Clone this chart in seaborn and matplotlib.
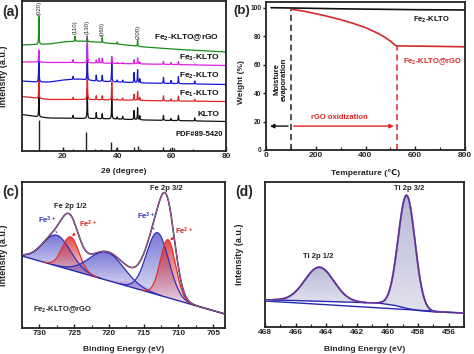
import numpy as np
import pandas as pd
import matplotlib
matplotlib.use("Agg")
from matplotlib import pyplot as plt
from matplotlib.colors import to_rgb
from matplotlib.patches import Polygon
from matplotlib.ticker import MultipleLocator
import seaborn as sns

# ---------------- (a) XRD ----------------
xrd_peaks = [11.2, 20.0, 23.8, 24.5, 29.0, 32.3, 33.4, 34.5, 38.0, 40.0, 42.0, 46.2, 47.5, 48.3, 57.0, 59.8, 62.5, 68.5]
klto_h = [20, 0, 3, 0, 30, 6, 0, 5, 22, 2, 3, 9, 12, 4, 5, 2, 5, 3]
fe1_h = [20, 0, 2, 0, 36, 4, 0, 4, 18, 1, 2, 6, 9, 3, 5, 2, 5, 2]
fe2_h = [30, 0, 3, 0, 35, 6, 0, 6, 22, 2, 2, 10, 13, 4, 6, 3, 7, 3]
fe3_h = [12, 0, 3, 0, 27, 3, 5, 5, 7, 1, 1, 4, 6, 2, 3, 2, 3, 1]
rgo_h = [28, 0, 0, 5, 4, 0, 0, 5, 0, 2, 0, 0, 6, 0, 0, 0, 0, 0]

base_x = [5, 10, 15, 20, 26, 32, 40, 50, 60, 80]
klto_base = [36.5, 34.5, 33, 32.8, 32.6, 32.4, 32, 31, 30.5, 29.5]
fe1_base = [54.5, 53, 51.5, 51.5, 51.5, 51.3, 51, 50.5, 50, 49.5]
fe2_base = [70, 69, 69, 71, 72, 70, 69, 68, 67.5, 66.5]
fe3_base = [89, 89, 88.5, 88.5, 88.3, 88, 87.5, 87, 86.5, 85.5]
rgo_base = [106, 106.5, 107, 109, 110, 109, 107, 104, 102, 99]

pdf_pos = [11.2, 19.9, 23.8, 28.6, 31.7, 33.9, 37.6, 39.7, 46.2, 47.5, 48.3, 57.0, 59.4, 61.0, 67.8]
pdf_h = [31, 3.3, 2, 19, 2, 2.5, 9.3, 3, 4.3, 5, 2, 4, 3.5, 3.5, 2]

xrd_names = ["KLTO", "Fe$_1$-KLTO", "Fe$_2$-KLTO", "Fe$_3$-KLTO", "Fe$_2$-KLTO@rGO"]
xrd_colors = ["#111111", "#e02424", "#1515d8", "#e020e0", "#1a8c1a"]
xrd_label_y = [36, 57, 75, 93, 113]
hkl_labels = ["(020)", "(110)", "(130)", "(060)", "(200)"]
hkl_pos = [11.2, 24.5, 29.0, 34.4, 47.6]
hkl_y = [143, 124, 124, 122, 119]

# ---------------- (b) TGA ----------------
tga_t_black = [20, 100, 200, 300, 400, 500, 600, 700, 800]
tga_w_black = [100, 99.8, 99.5, 99.2, 99.0, 98.8, 98.6, 98.5, 98.4]
tga_t_red = [100, 150, 200, 250, 300, 350, 400, 450, 480, 500, 515, 525, 540, 600, 700, 800]
tga_w_red = [99.0, 97.6, 95.8, 93.8, 91.6, 89.0, 86.0, 82.0, 79.0, 76.5, 74.2, 73.2, 73.1, 73.0, 72.8, 72.5]

# ---------------- (c) Fe 2p XPS ----------------
fe_bg_x = [732.5, 703.3]
fe_bg_y = [72, 14]
fe_centers = [727.5, 725.5, 720.3, 716.0, 713.0, 711.5]
fe_heights = [30.7, 33, 28, 6, 62, 58]
fe_sigmas = [2.0, 1.2, 2.5, 2.0, 1.6, 1.1]
fe_kinds = ["Fe3+", "Fe2+", "sat", "sat2", "Fe3+", "Fe2+"]

# ---------------- (d) Ti 2p XPS ----------------
ti_bg_x = [468, 465, 462, 460.5, 459.5, 458.7, 458, 457, 456, 455]
ti_bg_y = [27.3, 26.0, 24.6, 23.8, 21.5, 18.5, 16.5, 15.2, 14.5, 14.0]
ti_line_x = [468, 455]
ti_line_y = [26.0, 14.0]
ti_centers = [464.45, 458.75]
ti_heights = [34, 113]
ti_sigmas = [0.95, 0.55]

sns.set_theme(style="ticks")
plt.rcParams["font.family"] = ["Liberation Sans", "DejaVu Sans"]
plt.rcParams["font.weight"] = "bold"
plt.rcParams["mathtext.fontset"] = "custom"
plt.rcParams["mathtext.rm"] = "Liberation Sans:bold"
plt.rcParams["mathtext.bf"] = "Liberation Sans:bold"
plt.rcParams["mathtext.default"] = "bf"
plt.rcParams["axes.linewidth"] = 1.3
plt.rcParams["xtick.direction"] = "in"
plt.rcParams["ytick.direction"] = "in"

W, H = 474, 354
fig = plt.figure(figsize=(W / 100, H / 100), dpi=100)


def px_axes(l, t, r, b):
    return fig.add_axes([l / W, 1 - b / H, (r - l) / W, (b - t) / H])


def style(ax, fs=6):
    for s in ax.spines.values():
        s.set_color("#222222")
    ax.tick_params(axis="both", which="major", length=3, width=1, labelsize=fs, pad=1.5, color="#222222")
    ax.tick_params(axis="both", which="minor", length=2, width=0.8, color="#222222")
    for lab in ax.get_xticklabels() + ax.get_yticklabels():
        lab.set_fontweight("bold")


def gauss(x, c, h, s):
    return h * np.exp(-((x - c) ** 2) / (2 * s ** 2))


def grad_fill(ax, x, y0, y1, color, a_top, a_bot, z):
    verts = np.vstack([np.column_stack([x, y1]), np.column_stack([x[::-1], y0[::-1]])])
    poly = Polygon(verts, closed=True, facecolor="none", edgecolor="none")
    ax.add_patch(poly)
    img = np.zeros((100, 1, 4))
    img[:, :, :3] = to_rgb(color)
    img[:, :, 3] = np.linspace(a_top, a_bot, 100)[:, None]
    im = ax.imshow(img, aspect="auto", origin="upper", zorder=z,
                   extent=[x.min(), x.max(), y0.min(), y1.max()])
    im.set_clip_path(poly)


# ================= (a) =================
ax = px_axes(22, 1, 226, 151)
tt = np.round(np.arange(5, 80.001, 0.01), 2)
for name, col, base, hts, ly in zip(xrd_names, xrd_colors,
                                    [klto_base, fe1_base, fe2_base, fe3_base, rgo_base],
                                    [klto_h, fe1_h, fe2_h, fe3_h, rgo_h], xrd_label_y):
    y = np.interp(tt, base_x, base)
    for p, h in zip(xrd_peaks, hts):
        if h > 0:
            y = y + h * 0.09 ** 2 / ((tt - p) ** 2 + 0.09 ** 2)
    df = pd.DataFrame({"2theta": tt, "I": y})
    sns.lineplot(data=df, x="2theta", y="I", ax=ax, color=col, lw=0.9, estimator=None, sort=False)
    ax.text(77.6, ly, name, ha="right", va="center", fontsize=6, fontweight="bold", color="#111111")
ax.vlines(pdf_pos, 0, pdf_h, color="#222222", lw=1.0)
ax.text(79.0, 17, "PDF#89-5420", ha="right", va="center", fontsize=5.5, fontweight="bold", color="#111111")
for lab, p, yy in zip(hkl_labels, hkl_pos, hkl_y):
    ax.text(p, yy, lab, rotation=90, ha="center", va="center", fontsize=4.3, fontweight="normal", color="#222222")
ax.set_xlim(5, 80)
ax.set_ylim(0, 150)
ax.set_yticks([])
ax.xaxis.set_major_locator(MultipleLocator(20))
ax.set_xlabel("2θ (degree)", fontsize=6, fontweight="bold")
ax.set_ylabel("Intensity (a.u.)", fontsize=6.5, fontweight="bold")
ax.yaxis.set_label_coords(-0.069, 0.5)
ax.xaxis.set_label_coords(0.5, -0.135)
ax.xaxis.label.set_va("center")
style(ax)
fig.text(11 / W, 1 - 12 / H, "(a)", fontsize=10, fontweight="bold", ha="center", va="center")

# ================= (b) =================
ax = px_axes(266, 2, 465, 150)
sns.lineplot(x=tga_t_red, y=tga_w_red, ax=ax, color="#d42a2a", lw=1.2, estimator=None, sort=False)
sns.lineplot(x=tga_t_black, y=tga_w_black, ax=ax, color="#111111", lw=1.2, estimator=None, sort=False)
ax.plot([100, 100], [0, 98.6], ls=(0, (4, 2.5)), color="#222222", lw=1.1)
ax.plot([525, 525], [0, 73.2], ls=(0, (4, 2.5)), color="#e02424", lw=1.1)
ax.annotate("", xy=(5, 16.8), xytext=(100, 16.8),
            arrowprops=dict(arrowstyle="-|>", color="#111111", lw=1.0, mutation_scale=6))
ax.annotate("", xy=(525, 16.8), xytext=(100, 16.8),
            arrowprops=dict(arrowstyle="-|>", color="#e02424", lw=1.0, mutation_scale=6))
ax.text(293, 22.9, "rGO oxidization", color="#e02424", fontsize=5.5, fontweight="bold", ha="center", va="center")
ax.text(58, 50, "Moisture\nevaporation", rotation=90, color="#111111", fontsize=5.5, fontweight="bold",
        ha="center", va="center", linespacing=1.0)
ax.text(667, 91.6, "Fe$_2$-KLTO", color="#111111", fontsize=5.5, ha="center", va="center")
ax.text(670, 62.4, "Fe$_2$-KLTO@rGO", color="#e02424", fontsize=5.5, ha="center", va="center")
ax.set_xlim(0, 800)
ax.set_ylim(0, 104)
ax.xaxis.set_major_locator(MultipleLocator(200))
ax.xaxis.set_minor_locator(MultipleLocator(100))
ax.yaxis.set_major_locator(MultipleLocator(20))
ax.set_xlabel("Temperature (\u2103)", fontsize=6, fontweight="bold")
ax.set_ylabel("Weight (%)", fontsize=6, fontweight="bold")
ax.yaxis.set_label_coords(-0.105, 0.46)
ax.xaxis.set_label_coords(0.5, -0.155)
ax.xaxis.label.set_va("center")
style(ax)
ax.tick_params(axis="y", which="major", direction="out", length=2.5, labelsize=4.8, pad=0.8)
fig.text(241.5 / W, 1 - 11 / H, "(b)", fontsize=9.5, fontweight="bold", ha="center", va="center")

# ================= (c) =================
ax = px_axes(22, 182, 225, 328)
ev = np.linspace(703.3, 732.5, 1500)
bg = np.interp(ev, fe_bg_x[::-1], fe_bg_y[::-1])
total = bg.copy()
for c, h, s, k in zip(fe_centers, fe_heights, fe_sigmas, fe_kinds):
    comp = gauss(ev, c, h, s)
    total = total + comp
    m = comp > 0.2
    if k == "Fe2+":
        grad_fill(ax, ev[m], bg[m], bg[m] + comp[m], "#e03030", 0.85, 0.08, 2)
        ax.plot(ev[m], bg[m] + comp[m], color="#e03030", lw=0.9, zorder=3)
    elif k == "sat2":
        grad_fill(ax, ev[m], bg[m], bg[m] + comp[m], "#c070c0", 0.4, 0.1, 1)
    else:
        grad_fill(ax, ev[m], bg[m], bg[m] + comp[m], "#4a4ac8", 0.75, 0.1, 1)
        ax.plot(ev[m], bg[m] + comp[m], color="#3030c0", lw=0.9, zorder=3)
sns.lineplot(x=fe_bg_x, y=fe_bg_y, ax=ax, color="#2a2aa8", lw=1.0, estimator=None, sort=False)
sns.lineplot(x=ev, y=total, ax=ax, color="#111111", lw=1.1, estimator=None, sort=False, zorder=4)
sns.lineplot(x=ev, y=total, ax=ax, color="#e070e0", lw=0.5, estimator=None, sort=False, zorder=5)
ax.text(725.6, 122, "Fe 2p 1/2", fontsize=5.5, ha="center", va="center")
ax.text(711.7, 139, "Fe 2p 3/2", fontsize=5.5, ha="center", va="center")
ax.annotate("Fe$^{3+}$", xy=(727.2, 93), xytext=(728.9, 108), color="#3535b5", fontsize=5.5,
            ha="center", va="center", arrowprops=dict(arrowstyle="-", color="#3535b5", lw=0.6))
ax.annotate("Fe$^{2+}$", xy=(725.3, 92), xytext=(723.0, 104), color="#e02424", fontsize=5.5,
            ha="center", va="center", arrowprops=dict(arrowstyle="-|>", color="#e02424", lw=0.6, mutation_scale=4))
ax.annotate("Fe$^{3+}$", xy=(713.3, 96), xytext=(714.6, 112), color="#3535b5", fontsize=5.5,
            ha="center", va="center", arrowprops=dict(arrowstyle="-", color="#3535b5", lw=0.6))
ax.annotate("Fe$^{2+}$", xy=(711.2, 88), xytext=(709.2, 97), color="#e02424", fontsize=5.5,
            ha="center", va="center", arrowprops=dict(arrowstyle="-|>", color="#e02424", lw=0.6, mutation_scale=4))
ax.text(730.9, 18, "Fe$_2$-KLTO@rGO", fontsize=5.5, ha="left", va="center")
ax.set_xlim(732.5, 703.3)
ax.set_ylim(0, 146)
ax.set_yticks([])
ax.xaxis.set_major_locator(MultipleLocator(5))
ax.xaxis.set_minor_locator(MultipleLocator(2.5))
ax.set_xlabel("Binding Energy (eV)", fontsize=6, fontweight="bold")
ax.set_ylabel("Intensity (a.u.)", fontsize=6.5, fontweight="bold")
ax.yaxis.set_label_coords(-0.069, 0.5)
ax.xaxis.set_label_coords(0.5, -0.15)
ax.xaxis.label.set_va("center")
style(ax)
fig.text(11 / W, 1 - 192 / H, "(c)", fontsize=10, fontweight="bold", ha="center", va="center")

# ================= (d) =================
ax = px_axes(265, 182, 464, 327)
be = np.linspace(455, 468, 1500)
tbg = np.interp(be, ti_bg_x[::-1], ti_bg_y[::-1])
ttot = tbg.copy()
for c, h, s in zip(ti_centers, ti_heights, ti_sigmas):
    comp = gauss(be, c, h, s)
    ttot = ttot + comp
    m = comp > 0.2
    grad_fill(ax, be[m], tbg[m], tbg[m] + comp[m], "#9a9ac4", 0.7, 0.3, 1)
    ax.plot(be[m], tbg[m] + comp[m], color="#2828a8", lw=1.3, zorder=3)
sns.lineplot(x=ti_bg_x, y=ti_bg_y, ax=ax, color="#2828b0", lw=1.0, estimator=None, sort=False)
sns.lineplot(x=ti_line_x, y=ti_line_y, ax=ax, color="#2828b0", lw=1.0, estimator=None, sort=False)
sns.lineplot(x=be, y=ttot, ax=ax, color="#d050d0", lw=1.0, estimator=None, sort=False, zorder=4)
sns.lineplot(x=be, y=ttot, ax=ax, color="#30306a", lw=0.6, estimator=None, sort=False, zorder=5)
ax.text(458.6, 139, "Ti 2p 3/2", fontsize=5.5, ha="center", va="center")
ax.text(464.5, 70, "Ti 2p 1/2", fontsize=5.5, ha="center", va="center")
ax.set_xlim(468, 455)
ax.set_ylim(0, 145)
ax.set_yticks([])
ax.xaxis.set_major_locator(MultipleLocator(2))
ax.xaxis.set_minor_locator(MultipleLocator(1))
ax.set_xlabel("Binding Energy (eV)", fontsize=6, fontweight="bold")
ax.set_ylabel("Intensity (a.u.)", fontsize=6.5, fontweight="bold")
ax.yaxis.set_label_coords(-0.107, 0.5)
ax.xaxis.set_label_coords(0.5, -0.155)
ax.xaxis.label.set_va("center")
style(ax)
fig.text(244 / W, 1 - 192 / H, "(d)", fontsize=10, fontweight="bold", ha="center", va="center")

fig.savefig("out.png", dpi=100)
